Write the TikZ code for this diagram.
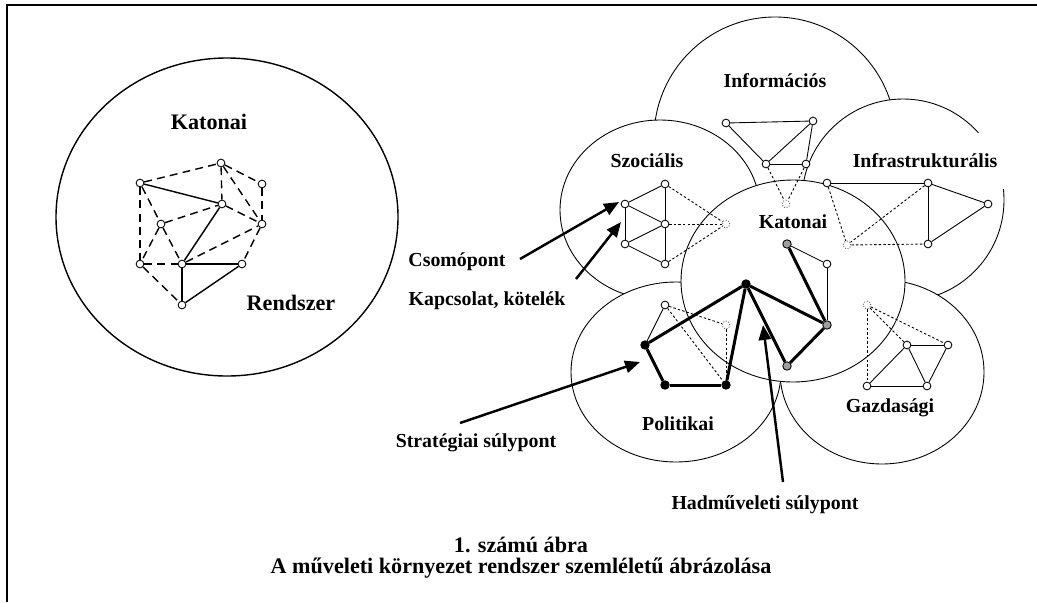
\documentclass[tikz,border=0pt]{standalone}
\usepackage{fontspec}
\setmainfont{Liberation Serif}
\usetikzlibrary{arrows.meta}

\tikzset{
  pont/.style={circle,draw=black,fill=white,inner sep=0pt,minimum size=4.4pt,line width=0.5pt},
  feketepont/.style={pont,fill=black,minimum size=4.8pt},
  szurkepont/.style={pont,fill=gray!75,minimum size=4.8pt},
  halvanypont/.style={pont,draw=black!70,densely dotted},
  felirat/.style={font=\fontsize{11.3}{13}\selectfont\bfseries},
  nagyfelirat/.style={font=\fontsize{12.6}{15}\selectfont\bfseries},
  terulet/.style={draw=black,fill=white,line width=0.5pt},
  nyil/.style={draw=black,line width=1.4pt,-{Triangle[length=8.5pt,width=7pt]}},
  pontozott/.style={draw=black,line width=0.5pt,dash pattern=on 1.4pt off 1.2pt},
  vastag/.style={draw=black,line width=1.7pt}
}

\begin{document}
\begin{tikzpicture}[x=0.02cm,y=-0.02cm]
\useasboundingbox (0,0) rectangle (1037,602);
\draw[line width=0.8pt] (7,602) -- (7,5) -- (1037,5);

% bal oldal: katonai rendszer
\draw[line width=0.8pt] (227,217) ellipse [x radius=171, y radius=159];
\node[nagyfelirat] (katL) at (209,122) {Katonai};
\node[nagyfelirat] (rendszer) at (291,303) {Rendszer};
\begin{scope}[every node/.style=pont]
    \node (L1) at (140,183) {};
    \node (L2) at (221,163) {};
    \node (L3) at (262,184) {};
    \node (L4) at (222,204) {};
    \node (L5) at (161,224) {};
    \node (L6) at (262,224) {};
    \node (L7) at (140,264) {};
    \node (L8) at (182,264) {};
    \node (L9) at (242,264) {};
    \node (L10) at (182,305) {};
\end{scope}
\begin{scope}[every edge/.style={draw=black,line width=0.8pt}]
    \draw (L1) edge (L4);
    \draw (L4) edge (L8);
    \draw (L8) edge (L9);
    \draw (L8) edge (L10);
    \draw (L10) edge (L9);
    \draw[dash pattern=on 4.5pt off 3pt] (L1) edge (L2) (L2) edge (L4) (L2) edge (L3)
        (L2) edge (L6) (L3) edge (L6) (L4) edge (L6) (L1) edge (L7) (L1) edge (L5)
        (L5) edge (L8) (L5) edge (L4) (L5) edge (L7) (L7) edge (L8) (L7) edge (L10)
        (L8) edge (L6) (L6) edge (L9);
\end{scope}

% jobb oldal: a muveleti kornyezet teruletei
\draw[terulet] (775,138) ellipse [x radius=121, y radius=121];
\draw[terulet] (660,210) ellipse [x radius=100, y radius=90];
\draw[terulet] (903,200) ellipse [x radius=101, y radius=101];
\draw[terulet] (676,372) ellipse [x radius=105, y radius=90];
\draw[terulet] (882,372) ellipse [x radius=102, y radius=92];
\draw[terulet] (793,281) ellipse [x radius=112, y radius=101];

\node[felirat] (info) at (775,81) {Információs};
\node[felirat] (szoc) at (647,161) {Szociális};
\node[felirat,fill=white,minimum height=32pt,inner xsep=4pt] (infra) at (925,161) {Infrastrukturális};
\node[felirat] (katR) at (793,222) {Katonai};
\node[felirat] (pol) at (678,424) {Politikai};
\node[felirat] (gazd) at (890,408) {Gazdasági};

\begin{scope}[every node/.style=pont]
    \node (I1) at (726,123) {};
    \node (I2) at (813,121) {};
    \node (I3) at (766,164) {};
    \node (I4) at (806,164) {};
    \node[halvanypont] (I5) at (786,204) {};
    \node (S1) at (625,204) {};
    \node (S2) at (665,184) {};
    \node (S3) at (665,224) {};
    \node (S4) at (625,244) {};
    \node (S5) at (665,264) {};
    \node[halvanypont] (S6) at (726,224) {};
    \node (F1) at (827,183) {};
    \node (F2) at (928,183) {};
    \node (F3) at (988,204) {};
    \node (F4) at (928,244) {};
    \node[halvanypont] (F5) at (847,245) {};
    \node[feketepont] (K1) at (746,284) {};
    \node[feketepont] (K2) at (645,345) {};
    \node[feketepont] (K3) at (665,385) {};
    \node[feketepont] (K4) at (726,385) {};
    \node[szurkepont] (G1) at (787,244) {};
    \node[szurkepont] (G2) at (827,325) {};
    \node[szurkepont] (G3) at (787,366) {};
    \node (W1) at (827,264) {};
    \node (P1) at (665,305) {};
    \node[halvanypont] (P2) at (726,325) {};
    \node[halvanypont] (Z1) at (867,305) {};
    \node (Z2) at (907,345) {};
    \node (Z3) at (948,345) {};
    \node (Z4) at (867,386) {};
    \node (Z5) at (927,386) {};
\end{scope}
\begin{scope}[every edge/.style={draw=black,line width=0.5pt}]
    \draw (I1) edge (I2) (I1) edge (I3) (I2) edge (I3) (I2) edge (I4) (I3) edge (I4);
    \draw (S1) edge (S2) (S1) edge (S3) (S1) edge (S4) (S2) edge (S3) (S3) edge (S4)
        (S3) edge (S5) (S4) edge (S5);
    \draw (F1) edge (F2) (F2) edge (F3) (F2) edge (F4) (F3) edge (F4);
    \draw (G1) edge (W1) (W1) edge (G2) (P1) edge (K2);
    \draw (Z2) edge (Z3) (Z2) edge (Z4) (Z2) edge (Z5) (Z3) edge (Z5) (Z4) edge (Z5);
\end{scope}
\begin{scope}[every edge/.style=pontozott]
    \draw (I3) edge (I5) (I4) edge (I5);
    \draw (S2) edge (S6) (S3) edge (S6) (S5) edge (S6);
    \draw (F1) edge (F5) (F2) edge (F5) (F5) edge (F4);
    \draw (P1) edge (P2) (P2) edge (K4) (P1) edge (K4);
    \draw (Z1) edge (Z2) (Z1) edge (Z3) (Z1) edge (Z4);
\end{scope}
\begin{scope}[every edge/.style=vastag]
    \draw (K1) edge (K2) (K2) edge (K3) (K3) edge (K4) (K4) edge (K1);
    \draw (K1) edge (G2) (G1) edge (G2) (K1) edge (G3) (G3) edge (G2);
\end{scope}

% magyarazo feliratok es nyilak
\node[felirat] (csomo) at (457,262) {Csomópont};
\node[felirat] (kapcs) at (487,301) {Kapcsolat, kötelék};
\node[felirat] (strat) at (476,443) {Stratégiai súlypont};
\node[felirat] (hadm) at (765,505) {Hadműveleti súlypont};
\coordinate (csT) at (520,259);
\coordinate (csH) at (619,202);
\coordinate (kaT) at (576,279);
\coordinate (kaH) at (621,222);
\coordinate (stT) at (460,423);
\coordinate (stH) at (640,362);
\coordinate (haT) at (783,482);
\coordinate (haH) at (763,325);
\draw[nyil] (csT) -- (csH);
\draw[nyil] (kaT) -- (kaH);
\draw[nyil] (stT) -- (stH);
\draw[nyil] (haT) -- (haH);

\node[nagyfelirat] (abra) at (521,545) {1. számú ábra};
\node[nagyfelirat] (cim) at (521,568) {A műveleti környezet rendszer szemléletű ábrázolása};
\end{tikzpicture}
\end{document}
